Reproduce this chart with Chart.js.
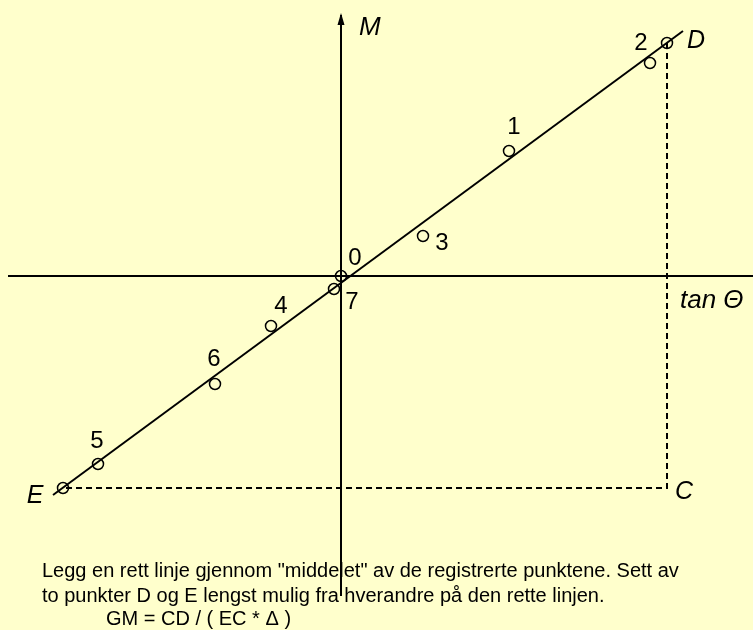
<!DOCTYPE html>
<html>
<head>
<meta charset="utf-8">
<script src="https://cdn.jsdelivr.net/npm/chart.js@4/dist/chart.umd.min.js"></script>
<style>
  html, body { margin: 0; padding: 0; background: #FFFFCC; }
  #wrap { width: 753px; height: 630px; position: relative; }
</style>
</head>
<body>
<div id="wrap"><canvas id="krengChart" width="753" height="630"></canvas></div>
<script>
// Registered heel test readings: tan(theta) against heeling moment M
const pointNames = ['0', '1', '2', '3', '4', '5', '6', '7'];
const tanTheta = [0, 16.8, 30.9, 8.2, -7.0, -24.3, -12.6, -0.7];
const moment = [0, 12.5, 21.3, 4.0, -5.0, -18.8, -10.8, -1.3];

// Straight line through the "middle" of the points, and D / E picked on it
const fitX = [-28.8, 34.2];
const fitY = [-21.9, 24.5];
const pointD = [32.6, 23.3];
const pointE = [-27.8, -21.2];
const pointC = [pointD[0], pointE[1]];

// Axis extents
const axisX = [-33.3, 41.2];
const axisY = [-32.0, 26.1];

const noteLines = [
    'Legg en rett linje gjennom "middelet" av de registrerte punktene. Sett av',
    'to punkter D og E lengst mulig fra hverandre på den rette linjen.',
    'GM = CD / ( EC * Δ )'
];

// label offsets in px from the marker
const labelOffset = {
    '0': [14, -18], '1': [5, -24], '2': [-9, -20], '3': [19, 7],
    '4': [10, -20], '5': [-1, -23], '6': [-1, -25], '7': [18, 13]
};

const measured = tanTheta.map((t, i) => ({ x: t, y: moment[i] }));

const labelsPlugin = {
    id: 'labels',
    afterDatasetsDraw(chart) {
        const { ctx, scales: { x, y } } = chart;
        ctx.save();
        ctx.fillStyle = '#000';
        ctx.textBaseline = 'middle';
        ctx.textAlign = 'center';

        // arrow head on the M axis
        const ax = x.getPixelForValue(0);
        const ay = y.getPixelForValue(axisY[1]);
        ctx.beginPath();
        ctx.moveTo(ax, ay - 2);
        ctx.lineTo(ax - 3.5, ay + 10);
        ctx.lineTo(ax + 3.5, ay + 10);
        ctx.closePath();
        ctx.fill();

        // point numbers
        ctx.font = '24px "Liberation Sans", Arial, sans-serif';
        pointNames.forEach((name, i) => {
            const off = labelOffset[name];
            ctx.fillText(name, x.getPixelForValue(tanTheta[i]) + off[0], y.getPixelForValue(moment[i]) + off[1]);
        });

        // construction letters
        ctx.font = 'italic 25px "Liberation Sans", Arial, sans-serif';
        ctx.fillText('D', x.getPixelForValue(pointD[0]) + 29, y.getPixelForValue(pointD[1]) - 2);
        ctx.fillText('E', x.getPixelForValue(pointE[0]) - 28, y.getPixelForValue(pointE[1]) + 8);
        ctx.fillText('C', x.getPixelForValue(pointC[0]) + 17, y.getPixelForValue(pointC[1]) + 4);

        // axis titles
        ctx.font = 'italic 26px "Liberation Sans", Arial, sans-serif';
        ctx.textAlign = 'left';
        ctx.fillText('M', ax + 18, 28);
        ctx.fillText('tan \u0398', 680, y.getPixelForValue(0) + 25);

        // note under the diagram
        ctx.font = '20px "Liberation Sans", Arial, sans-serif';
        ctx.textBaseline = 'alphabetic';
        ctx.fillText(noteLines[0], 42, 577);
        ctx.fillText(noteLines[1], 42, 602);
        ctx.fillText(noteLines[2], 106, 625);
        ctx.restore();
    }
};

new Chart(document.getElementById('krengChart'), {
    type: 'scatter',
    data: {
        datasets: [
            {
                // tan theta axis
                data: [{ x: axisX[0], y: 0 }, { x: axisX[1], y: 0 }],
                showLine: true, borderColor: '#000', borderWidth: 2, pointRadius: 0
            },
            {
                // M axis
                data: [{ x: 0, y: axisY[0] }, { x: 0, y: axisY[1] }],
                showLine: true, borderColor: '#000', borderWidth: 2, pointRadius: 0
            },
            {
                // D - C - E construction
                data: [{ x: pointD[0], y: pointD[1] }, { x: pointC[0], y: pointC[1] }, { x: pointE[0], y: pointE[1] }],
                showLine: true, borderColor: '#000', borderWidth: 2, borderDash: [6, 4], pointRadius: 0
            },
            {
                // fitted line
                data: [{ x: fitX[0], y: fitY[0] }, { x: fitX[1], y: fitY[1] }],
                showLine: true, borderColor: '#000', borderWidth: 2, pointRadius: 0
            },
            {
                data: measured,
                pointStyle: 'circle', pointRadius: 5.5, borderWidth: 1.5,
                borderColor: '#000', backgroundColor: 'rgba(0,0,0,0)'
            },
            {
                data: [{ x: pointD[0], y: pointD[1] }, { x: pointE[0], y: pointE[1] }],
                pointStyle: 'circle', pointRadius: 5.5, borderWidth: 1.5,
                borderColor: '#000', backgroundColor: 'rgba(0,0,0,0)'
            }
        ]
    },
    options: {
        responsive: false,
        animation: false,
        layout: { padding: 0, autoPadding: false },
        plugins: { legend: { display: false }, tooltip: { enabled: false } },
        scales: {
            x: { type: 'linear', display: false, min: -34.1, max: 41.2 },
            y: { type: 'linear', display: false, min: -35.4, max: 27.6 }
        }
    },
    plugins: [labelsPlugin]
});
</script>
</body>
</html>
